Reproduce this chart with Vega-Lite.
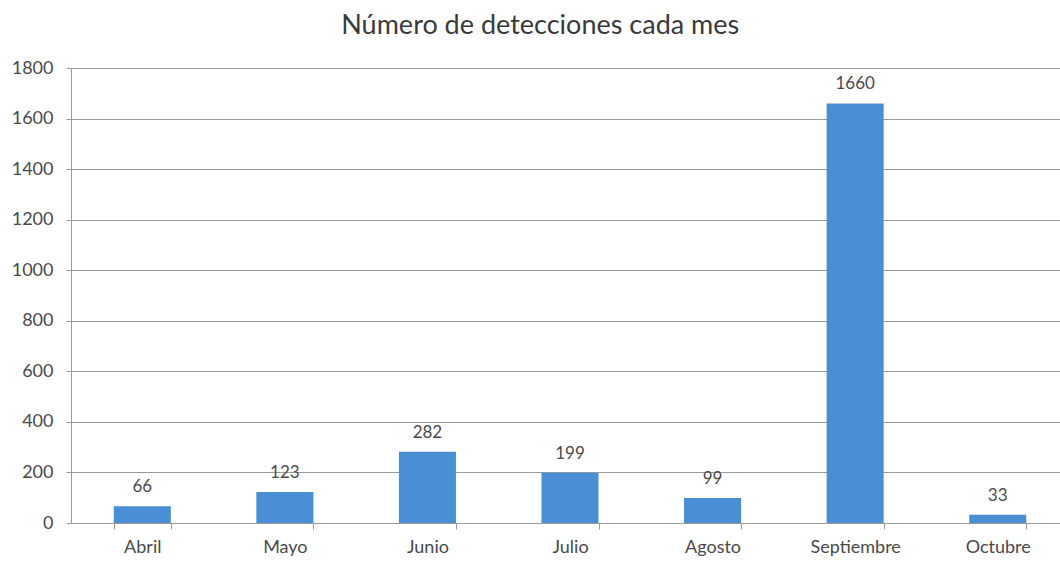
{
  "$schema": "https://vega.github.io/schema/vega-lite/v6.json",
  "width": 998,
  "height": 455,
  "autosize": {"type": "none"},
  "padding": {"left": 71, "top": 68, "right": 0, "bottom": 39},
  "background": "white",
  "title": {
    "text": "Número de detecciones cada mes",
    "font": "Lato",
    "fontSize": 27,
    "fontWeight": "normal",
    "color": "#3a3a3a",
    "anchor": "start",
    "dx": 330,
    "offset": 19
  },
  "data": {
    "values": [
      {"mes": "Abril", "n": 66},
      {"mes": "Mayo", "n": 123},
      {"mes": "Junio", "n": 282},
      {"mes": "Julio", "n": 199},
      {"mes": "Agosto", "n": 99},
      {"mes": "Septiembre", "n": 1660},
      {"mes": "Octubre", "n": 33}
    ]
  },
  "config": {
    "view": {"stroke": null},
    "axis": {
      "labelFont": "Lato",
      "labelFontSize": 18,
      "labelColor": "#4a4a4a",
      "domainColor": "#9a9a9a",
      "tickColor": "#9a9a9a",
      "gridColor": "#9a9a9a",
      "gridOpacity": 1,
      "title": null
    }
  },
  "encoding": {
    "x": {
      "field": "mes",
      "type": "nominal",
      "sort": null,
      "scale": {"paddingInner": 0.6, "paddingOuter": 0.3},
      "axis": {
        "labelAngle": 0,
        "tickBand": "extent",
        "tickSize": 6,
        "labelPadding": 9,
        "grid": false
      }
    },
    "y": {
      "field": "n",
      "type": "quantitative",
      "scale": {"domain": [0, 1800], "nice": false},
      "axis": {
        "values": [0, 200, 400, 600, 800, 1000, 1200, 1400, 1600, 1800],
        "format": "d",
        "tickSize": 5,
        "labelPadding": 13,
        "grid": true
      }
    }
  },
  "layer": [
    {"mark": {"type": "bar", "color": "#4a8fd6"}},
    {
      "mark": {"type": "text", "baseline": "bottom", "dy": -10, "font": "Lato", "fontSize": 17, "color": "#4a4a4a"},
      "encoding": {"text": {"field": "n", "type": "quantitative"}}
    }
  ]
}
